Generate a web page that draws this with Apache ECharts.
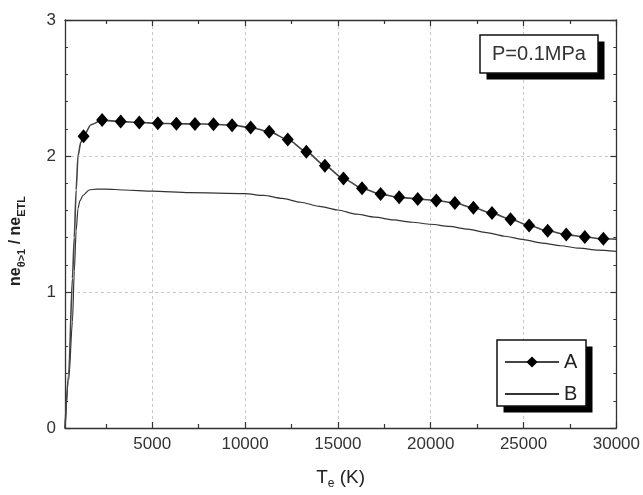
<!DOCTYPE html>
<html>
<head>
<meta charset="utf-8">
<script src="https://cdn.jsdelivr.net/npm/echarts@6/dist/echarts.min.js"></script>
<style>html,body{margin:0;padding:0;background:#fff}#c{width:643px;height:495px}</style>
</head>
<body>
<div id="c"></div>
<script>
// ---- data ----
const tempA = [300, 500, 700, 800, 900, 1000, 1150, 1300, 1700, 2300, 3300, 4300, 5300, 6300, 7300, 8300, 9300, 10300,
  11300, 12300, 13300, 14300, 15300, 16300, 17300, 18300, 19300, 20300, 21300, 22300, 23300, 24300,
  25300, 26300, 27300, 28300, 29300, 30000];
const valA = [0, 0.4, 1.1, 1.4, 1.75, 2.0, 2.1, 2.145, 2.23, 2.264, 2.253, 2.246, 2.241, 2.237, 2.236, 2.234, 2.226, 2.21,
  2.179, 2.121, 2.032, 1.929, 1.835, 1.762, 1.72, 1.696, 1.684, 1.673, 1.654, 1.619, 1.58, 1.535,
  1.489, 1.45, 1.422, 1.404, 1.391, 1.388];
const markerTempsA = [1300, 2300, 3300, 4300, 5300, 6300, 7300, 8300, 9300, 10300, 11300, 12300, 13300, 14300,
  15300, 16300, 17300, 18300, 19300, 20300, 21300, 22300, 23300, 24300, 25300, 26300, 27300, 28300, 29300];

const tempB = [300, 500, 700, 800, 900, 1000, 1100, 1270, 1600, 2000, 2500, 3500, 5000, 7000, 10000, 11000, 12000, 13000,
  14000, 15000, 16000, 17000, 18000, 19000, 20000, 21000, 22000, 23000, 24000, 25000, 26000, 27000,
  28000, 29000, 30000];
const valB = [0, 0.35, 0.78, 1.15, 1.45, 1.613, 1.67, 1.71, 1.75, 1.757, 1.757, 1.75, 1.742, 1.73, 1.723, 1.71, 1.688, 1.66,
  1.63, 1.603, 1.572, 1.55, 1.53, 1.513, 1.498, 1.482, 1.462, 1.437, 1.41, 1.385, 1.36, 1.34,
  1.322, 1.308, 1.298];

const xRange = [300, 30000];
const xMajorTicks = [5000, 10000, 15000, 20000, 25000, 30000];
const xMinorTicks = [2500, 7500, 12500, 17500, 22500, 27500];
const yRange = [0, 3];
const yInterval = 1;
const seriesNames = ['A', 'B'];
const annotation = 'P=0.1MPa';

// ---- chart ----
const FONT = "'Liberation Sans', Arial, sans-serif";
const AX = '#333';
const chart = echarts.init(document.getElementById('c'), null, { renderer: 'canvas' });

function xAxisDef(pos, ticks, len, opts) {
  return Object.assign({
    type: 'value', position: pos, min: xRange[0], max: xRange[1],
    axisLine: { show: true, lineStyle: { color: AX, width: 1.3 } },
    axisTick: { show: true, inside: true, length: len, customValues: ticks, lineStyle: { color: AX, width: 1.2 } },
    axisLabel: { show: false },
    splitLine: { show: false }
  }, opts || {});
}
function yAxisDef(pos, opts) {
  return Object.assign({
    type: 'value', position: pos, min: yRange[0], max: yRange[1], interval: yInterval,
    axisLine: { show: true, lineStyle: { color: AX, width: 1.3 } },
    axisTick: { show: true, inside: true, length: 6, lineStyle: { color: AX, width: 1.2 } },
    minorTick: { show: true, splitNumber: 5, length: 3, lineStyle: { color: AX, width: 1 } },
    axisLabel: { show: false },
    splitLine: { show: false }
  }, opts || {});
}

// framed boxes with a hard black drop shadow (annotation and legend)
function shadowBox(x, y, w, h, off) {
  return [
    { type: 'rect', z: 10, silent: true, shape: { x: x + off, y: y + off, width: w, height: h }, style: { fill: '#000' } },
    { type: 'rect', z: 11, silent: true, shape: { x: x, y: y, width: w, height: h }, style: { fill: '#fff', stroke: '#111', lineWidth: 1.5 } }
  ];
}

const option = {
  animation: false,
  backgroundColor: '#fff',
  textStyle: { fontFamily: FONT },
  grid: { left: 62, right: 24, top: 20, bottom: 64, containLabel: false },
  graphic: [].concat(
    shadowBox(480, 35, 118, 38, 6.5),
    shadowBox(497, 340, 89, 66, 6.5),
    [{ type: 'text', z: 12, silent: true, x: 539, y: 54,
       style: { text: annotation, fill: '#333', font: "20px 'Liberation Sans', Arial, sans-serif", textAlign: 'center', textVerticalAlign: 'middle' } }]
  ),
  legend: {
    data: [seriesNames[0], { name: seriesNames[1], itemStyle: { opacity: 0 } }],
    orient: 'vertical', left: 497, top: 340, z: 20,
    padding: [12, 11, 12, 7], itemWidth: 54, itemHeight: 14, itemGap: 12,
    textStyle: { fontFamily: FONT, fontSize: 20, color: '#222' }
  },
  xAxis: [
    xAxisDef('bottom', xMajorTicks, 6, {
      axisLabel: { show: true, customValues: xMajorTicks, margin: 8, fontSize: 17, color: '#333', fontFamily: FONT,
                   formatter: (v) => String(v) },
      splitLine: { show: true, lineStyle: { color: '#c8c8c8', type: [3, 3], width: 1 } },
      name: '{b|T}{s|e}{b| (K)}', nameLocation: 'middle', nameGap: 38,
      nameTextStyle: { rich: {
        b: { fontSize: 19, fontFamily: FONT, color: '#222' },
        s: { fontSize: 12, fontFamily: FONT, color: '#222', padding: [12, 0, 0, 0] }
      } }
    }),
    xAxisDef('bottom', xMinorTicks, 4, { axisLine: { show: false } }),
    xAxisDef('top', xMajorTicks, 6),
    xAxisDef('top', xMinorTicks, 4, { axisLine: { show: false } })
  ],
  yAxis: [
    yAxisDef('left', {
      axisLabel: { show: true, margin: 9, fontSize: 17, color: '#333', fontFamily: FONT },
      splitLine: { show: true, lineStyle: { color: '#c8c8c8', type: [3, 3], width: 1 } },
      name: '{b|ne}{s|θ>1}{b| / ne}{s|ETL}', nameLocation: 'middle', nameGap: 38,
      nameTextStyle: { padding: [0, 34, 0, 0], rich: {
        b: { fontSize: 16, fontWeight: 'bold', fontFamily: FONT, color: '#222' },
        s: { fontSize: 11, fontWeight: 'bold', fontFamily: FONT, color: '#222', padding: [11, 0, 0, 0] }
      } }
    }),
    yAxisDef('right')
  ],
  series: [
    {
      name: seriesNames[0], type: 'line', xAxisIndex: 0, yAxisIndex: 0,
      data: tempA.map((t, i) => [t, valA[i]]),
      smooth: 0.25, smoothMonotone: 'x',
      symbol: 'diamond',
      symbolSize: (v) => markerTempsA.indexOf(v[0]) >= 0 ? [12, 14] : 0,
      showAllSymbol: true,
      lineStyle: { color: '#444', width: 1.6 },
      itemStyle: { color: '#000', borderWidth: 0 },
      z: 3
    },
    {
      name: seriesNames[1], type: 'line', xAxisIndex: 0, yAxisIndex: 0,
      data: tempB.map((t, i) => [t, valB[i]]),
      smooth: 0.25, smoothMonotone: 'x',
      symbol: 'none',
      lineStyle: { color: '#333', width: 1.2 },
      itemStyle: { color: '#333' },
      z: 2
    }
  ]
};
chart.setOption(option);
</script>
</body>
</html>
